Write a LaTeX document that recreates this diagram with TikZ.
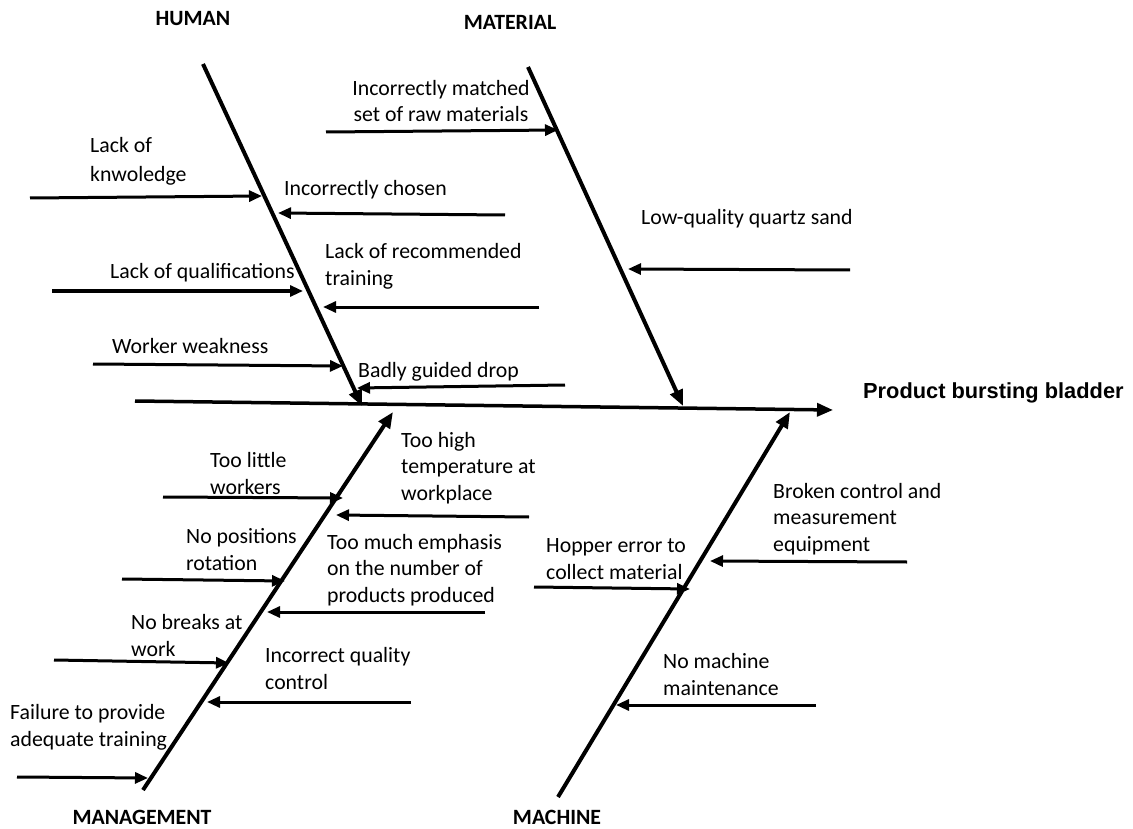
\documentclass[tikz,border=0pt]{standalone}
\usepackage{fontspec}
\setmainfont{Carlito}
\newfontfamily\arialfont{Liberation Sans}
\usetikzlibrary{arrows.meta}
\begin{document}
\begin{tikzpicture}[x=1pt,y=-1pt,
  bone/.style={line width=4pt,-{Triangle[length=16pt,width=13pt]}},
  spine/.style={line width=3.5pt,-{Triangle[length=16pt,width=13pt]}},
  cause/.style={line width=3pt,-{Triangle[length=13pt,width=11pt]}},
  lbl/.style={font=\fontsize{21.8}{26.5}\selectfont,align=left,inner sep=0pt,anchor=base west},
  clbl/.style={font=\fontsize{21.8}{26.5}\selectfont,align=center,inner sep=0pt,anchor=base},
  cat/.style={font=\bfseries\fontsize{21.8}{24}\selectfont,inner sep=0pt,anchor=base}]
\useasboundingbox (0,0) rectangle (1133,829);
% category labels
\node[cat] (human) at (193,26) {HUMAN};
\node[cat] (material) at (510,30) {MATERIAL};
\node[cat] (management) at (142,824) {MANAGEMENT};
\node[cat] (machine) at (557,824) {MACHINE};
\node[font=\arialfont\bfseries\fontsize{21.8}{24}\selectfont,inner sep=0pt,anchor=base west] (effect) at (863,398) {Product bursting bladder};
% spine and bones
\coordinate (sL) at (135,401);
\coordinate (sR) at (833,410);
\draw[spine] (sL) -- (sR);
\coordinate (hT) at (203,64);  \coordinate (hB) at (362,406);
\coordinate (mT) at (528,67);  \coordinate (mB) at (683,406);
\coordinate (gB) at (143,790); \coordinate (gT) at (393,412);
\coordinate (cB) at (558,797); \coordinate (cT) at (790,412);
\draw[bone] (hT) -- (hB);
\draw[bone] (mT) -- (mB);
\draw[bone] (gB) -- (gT);
\draw[bone] (cB) -- (cT);
% HUMAN causes
\node[lbl,font=\fontsize{21.8}{29.5}\selectfont] (h1) at (90,182) {Lack of\\knwoledge};
\coordinate (h1s) at (30,198); \coordinate (h1e) at (262,196);
\draw[cause] (h1s) -- (h1e);
\node[lbl] (h2) at (284,196) {Incorrectly chosen};
\coordinate (h2s) at (505,215); \coordinate (h2e) at (278,213);
\draw[cause] (h2s) -- (h2e);
\node[lbl] (h3) at (110,279) {Lack of qualifications};
\coordinate (h3s) at (52,291); \coordinate (h3e) at (303,291);
\draw[cause] (h3s) -- (h3e);
\node[lbl,font=\fontsize{21.8}{28}\selectfont] (h4) at (325,286) {Lack of recommended\\training};
\coordinate (h4s) at (539,307); \coordinate (h4e) at (323,307);
\draw[cause] (h4s) -- (h4e);
\node[lbl] (h5) at (112,353) {Worker weakness};
\coordinate (h5s) at (93,364); \coordinate (h5e) at (343,366);
\draw[cause] (h5s) -- (h5e);
\node[lbl] (h6) at (358,377) {Badly guided drop};
\coordinate (h6s) at (565,385); \coordinate (h6e) at (357,388);
\draw[cause] (h6s) -- (h6e);
% MATERIAL causes
\node[clbl] (m1) at (441,122) {Incorrectly matched\\set of raw materials};
\coordinate (m1s) at (326,132); \coordinate (m1e) at (558,130);
\draw[cause] (m1s) -- (m1e);
\node[lbl] (m2) at (641,225) {Low-quality quartz sand};
\coordinate (m2s) at (850,270); \coordinate (m2e) at (628,269);
\draw[cause] (m2s) -- (m2e);
% MANAGEMENT causes
\node[lbl] (g1) at (210,494) {Too little\\workers};
\coordinate (g1s) at (163,497); \coordinate (g1e) at (343,498);
\draw[cause] (g1s) -- (g1e);
\node[lbl] (g2) at (401,500) {Too high\\temperature at\\workplace};
\coordinate (g2s) at (529,517); \coordinate (g2e) at (336,515);
\draw[cause] (g2s) -- (g2e);
\node[lbl] (g3) at (186,570) {No positions\\rotation};
\coordinate (g3s) at (122,579); \coordinate (g3e) at (285,581);
\draw[cause] (g3s) -- (g3e);
\node[lbl] (g4) at (327,602) {Too much emphasis\\on the number of\\products produced};
\coordinate (g4s) at (485,612); \coordinate (g4e) at (267,612);
\draw[cause] (g4s) -- (g4e);
\node[lbl] (g5) at (131,656) {No breaks at\\work};
\coordinate (g5s) at (54,660); \coordinate (g5e) at (229,663);
\draw[cause] (g5s) -- (g5e);
\node[lbl] (g6) at (265,689) {Incorrect quality\\control};
\coordinate (g6s) at (411,702); \coordinate (g6e) at (207,702);
\draw[cause] (g6s) -- (g6e);
\node[lbl] (g7) at (10,746) {Failure to provide\\adequate training};
\coordinate (g7s) at (17,777); \coordinate (g7e) at (148,778);
\draw[cause] (g7s) -- (g7e);
% MACHINE causes
\node[lbl] (c1) at (773,551) {Broken control and\\measurement\\equipment};
\coordinate (c1s) at (907,562); \coordinate (c1e) at (710,561);
\draw[cause] (c1s) -- (c1e);
\node[lbl] (c2) at (546,579) {Hopper error to\\collect material};
\coordinate (c2s) at (534,587); \coordinate (c2e) at (690,589);
\draw[cause] (c2s) -- (c2e);
\node[lbl] (c3) at (663,695) {No machine\\maintenance};
\coordinate (c3s) at (816,705); \coordinate (c3e) at (616,705);
\draw[cause] (c3s) -- (c3e);
\end{tikzpicture}
\end{document}
